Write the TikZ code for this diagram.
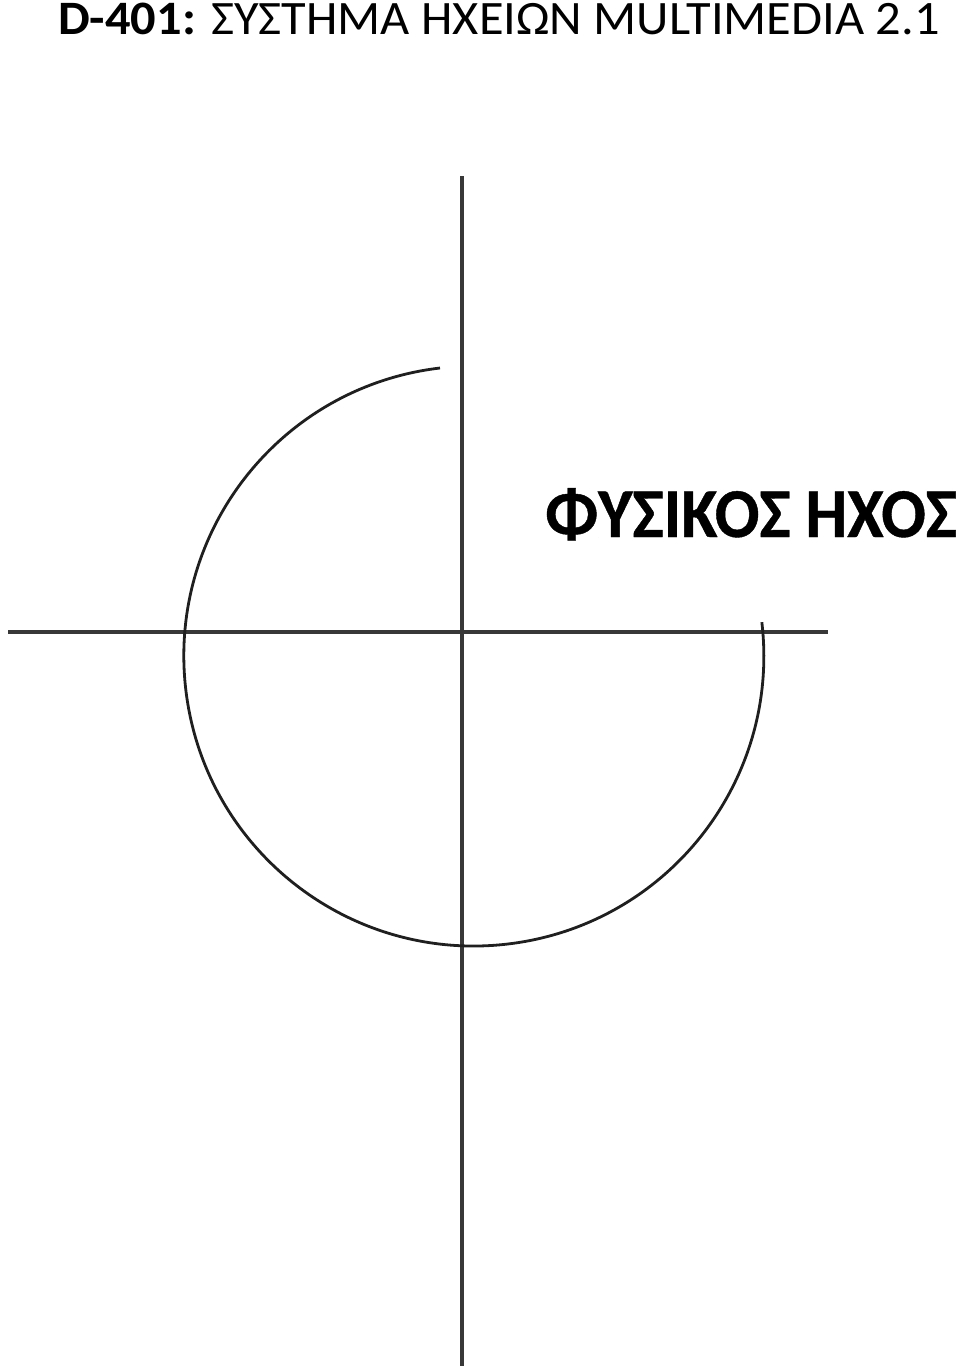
\documentclass[tikz,border=0pt]{standalone}
\usepackage{fontspec}
\setmainfont{Carlito}
\newfontfamily\widefont[FakeStretch=1.05]{Carlito}
\newfontfamily\capfont[FakeStretch=0.945, FakeBold=0.6]{Carlito Bold}
\usetikzlibrary{positioning}

\begin{document}
\begin{tikzpicture}[x=1pt, y=-1pt,
    axis/.style={line width=3.2pt, black!78},
    wave/.style={line width=2.8pt, black!88},
    heading/.style={anchor=base west, inner sep=0pt, font=\widefont\fontsize{48}{58}\selectfont},
    caption/.style={anchor=base west, inner sep=0pt, font=\capfont\fontsize{70}{84}\selectfont}]

    % Page frame
    \useasboundingbox (0,0) rectangle (960,1369);

    % Texts
    \node[heading] (title) at (58,34) {\textbf{D-401:} ΣΥΣΤΗΜΑ ΗΧΕΙΩΝ MULTIMEDIA 2.1};
    \node[caption] (sound) at (545,537) {ΦΥΣΙΚΟΣ ΗΧΟΣ};

    % Axes
    \coordinate (ytop) at (462,176);
    \coordinate (ybot) at (462,1366);
    \coordinate (xleft) at (8,632);
    \coordinate (xright) at (828,632);
    \draw[axis] (ytop) -- (ybot);
    \draw[axis] (xleft) -- (xright);

    % Wave front
    \coordinate (wstart) at (440,368);
    \draw[wave] (wstart) arc[start angle=-96.7, end angle=-366.7, radius=290];

\end{tikzpicture}
\end{document}
